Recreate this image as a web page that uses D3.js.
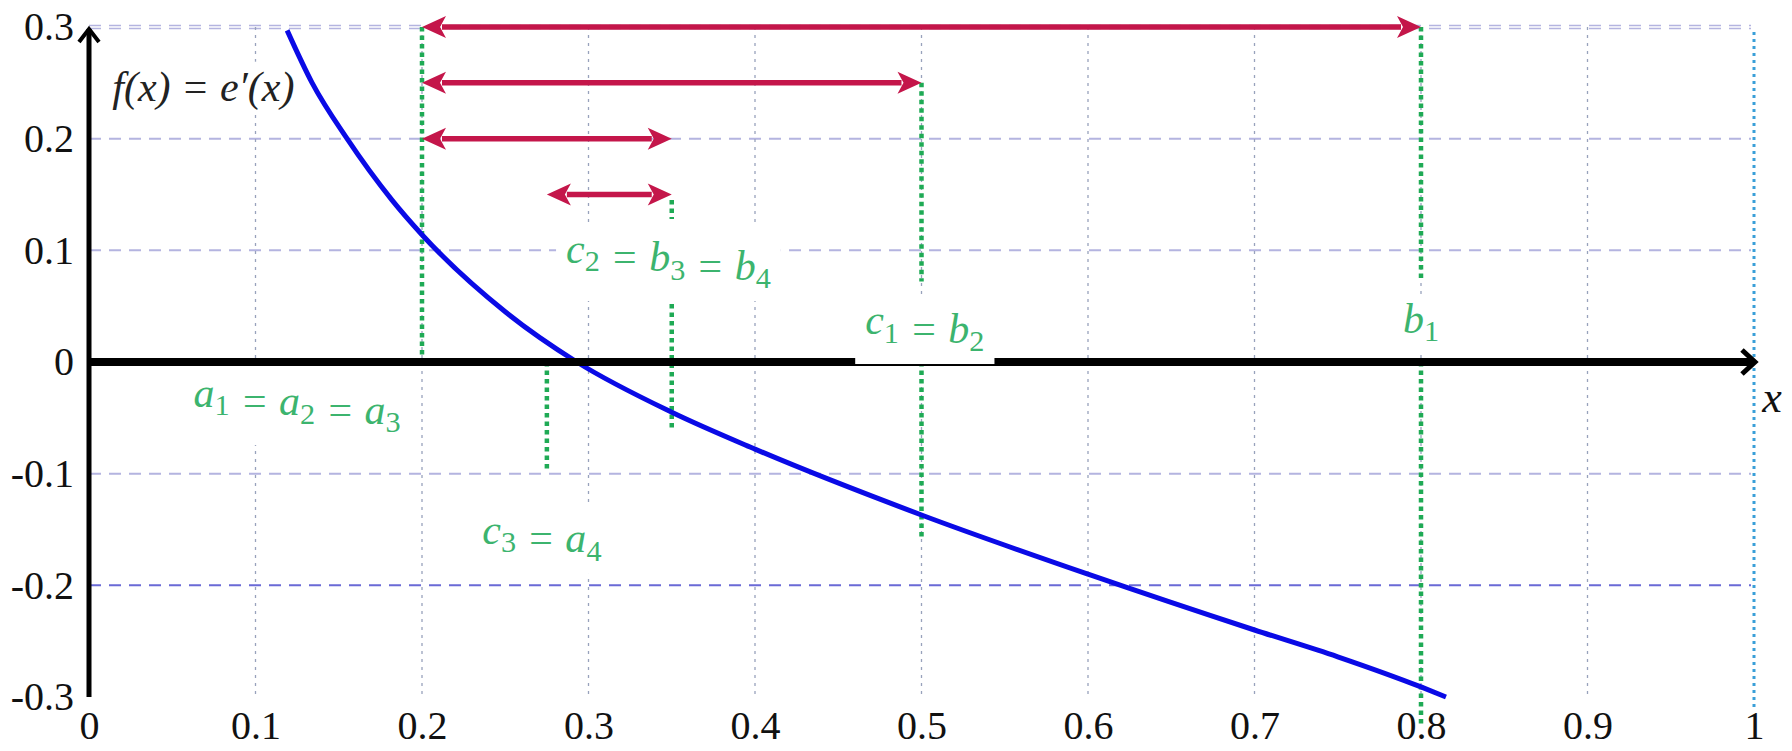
<!DOCTYPE html>
<html>
<head>
<meta charset="utf-8">
<script src="https://cdn.jsdelivr.net/npm/d3@7.9.0/dist/d3.min.js"></script>
<style>
  body { margin: 0; background: #fff; }
  svg text { font-family: "Liberation Serif", "Tinos", "DejaVu Serif", "Times New Roman", serif; }
</style>
</head>
<body>
<svg id="chart" width="1792" height="751"></svg>
<script>
// Ticks and tick labels
const xTicks = [0, 0.1, 0.2, 0.3, 0.4, 0.5, 0.6, 0.7, 0.8, 0.9, 1];
const xTickLabels = ["0", "0.1", "0.2", "0.3", "0.4", "0.5", "0.6", "0.7", "0.8", "0.9", "1"];
const yTicks = [-0.3, -0.2, -0.1, 0, 0.1, 0.2, 0.3];
const yTickLabels = ["-0.3", "-0.2", "-0.1", "0", "0.1", "0.2", "0.3"];
const gridY = [0.3, 0.2, 0.1, -0.1, -0.2];
const gridX = [0.1, 0.2, 0.3, 0.4, 0.5, 0.6, 0.7, 0.8, 0.9];

// The curve f(x) = e'(x)
const curveX = [0.119, 0.134, 0.155, 0.182, 0.2, 0.25, 0.293, 0.35, 0.4, 0.5, 0.6, 0.7, 0.75, 0.8, 0.815];
const curveY = [0.297, 0.25, 0.2, 0.145, 0.114, 0.045, 0, -0.045, -0.078, -0.137, -0.19, -0.24, -0.264, -0.291, -0.3];

// Bisection intervals (red double arrows)
const arrowFrom = [0.2, 0.2, 0.2, 0.275];
const arrowTo = [0.8, 0.5, 0.35, 0.35];
const arrowLevel = [0.3, 0.25, 0.2, 0.15];

// Green dotted markers: x position, top and bottom values
const markX = [0.2, 0.5, 0.5, 0.8, 0.8, 0.35, 0.35, 0.275];
const markTop = [0.3, 0.25, 0, 0.3, 0, 0.145, 0.052, 0];
const markBottom = [0, 0.072, -0.157, 0.075, -0.325, 0.128, -0.06, -0.098];

// Annotations (digits become subscripts)
const labelText = ["a1 = a2 = a3", "c2 = b3 = b4", "c1 = b2", "b1", "c3 = a4"];
const labelX = [0.125, 0.348, 0.502, 0.8, 0.272];
const labelY = [-0.04, 0.089, 0.025, 0.026, -0.163];

const serif = '"Liberation Serif", "Tinos", "DejaVu Serif", "Times New Roman", serif';
const svg = d3.select("#chart");
const x = d3.scaleLinear().domain([0, 1]).range([89, 1754]);
const y = d3.scaleLinear().domain([-0.3, 0.3]).range([697, 27]);

// Horizontal dashed grid
gridY.forEach(v => {
    const offs = v === 0.3 ? [-1.5, 1.5] : [0];
    offs.forEach(o => {
        svg.append("line")
            .attr("x1", x(0)).attr("x2", x(1) - 3)
            .attr("y1", y(v) + o).attr("y2", y(v) + o)
            .attr("stroke", v === -0.2 ? "#6a6ad6" : "#b4b4e0")
            .attr("stroke-width", v === 0.3 ? 1.6 : 2)
            .attr("stroke-dasharray", "12 8");
    });
});

// Vertical dotted grid
gridX.forEach(v => {
    svg.append("line")
        .attr("x1", x(v)).attr("x2", x(v))
        .attr("y1", y(0.3)).attr("y2", y(-0.3))
        .attr("stroke", "#98a2bc")
        .attr("stroke-width", 1.3)
        .attr("stroke-dasharray", "3 5");
});
svg.append("line")
    .attr("x1", x(1)).attr("x2", x(1))
    .attr("y1", y(0.3) + 5).attr("y2", y(-0.3) + 14)
    .attr("stroke", "#3a9fd8")
    .attr("stroke-width", 3)
    .attr("stroke-dasharray", "3 4");

// Green dotted markers
markX.forEach((v, i) => {
    svg.append("line")
        .attr("x1", x(v)).attr("x2", x(v))
        .attr("y1", y(markTop[i])).attr("y2", y(markBottom[i]))
        .attr("stroke", "#1faa55")
        .attr("stroke-width", 4.5)
        .attr("stroke-dasharray", "4.5 4");
});

// Curve
const pts = curveX.map((d, i) => [d, curveY[i]]);
svg.append("path")
    .datum(pts)
    .attr("fill", "none")
    .attr("stroke", "#0a0ae6")
    .attr("stroke-width", 5)
    .attr("d", d3.line().x(d => x(d[0])).y(d => y(d[1])).curve(d3.curveMonotoneX));

// Axes lines with open arrow heads
svg.append("line")
    .attr("x1", x(0)).attr("x2", x(0))
    .attr("y1", y(-0.3)).attr("y2", y(0.3) + 2)
    .attr("stroke", "#000").attr("stroke-width", 5);
svg.append("path")
    .attr("d", `M${x(0) - 10},${y(0.3) + 15}L${x(0)},${y(0.3) + 2}L${x(0) + 10},${y(0.3) + 15}`)
    .attr("fill", "none").attr("stroke", "#000").attr("stroke-width", 4);
svg.append("line")
    .attr("x1", x(0)).attr("x2", x(1))
    .attr("y1", y(0)).attr("y2", y(0))
    .attr("stroke", "#000").attr("stroke-width", 8);
svg.append("path")
    .attr("d", `M${x(1) - 12},${y(0) - 12}L${x(1) + 1},${y(0)}L${x(1) - 12},${y(0) + 12}`)
    .attr("fill", "none").attr("stroke", "#000").attr("stroke-width", 5);

// Red double arrows
const head = 24, half = 11;
arrowFrom.forEach((v, i) => {
    const x1 = x(v), x2 = x(arrowTo[i]), yy = y(arrowLevel[i]);
    svg.append("line")
        .attr("x1", x1 + head - 4).attr("x2", x2 - head + 4)
        .attr("y1", yy).attr("y2", yy)
        .attr("stroke", "#c4164a").attr("stroke-width", 5.5);
    svg.append("path")
        .attr("d", `M${x1},${yy}L${x1 + head},${yy - half}L${x1 + head - 6},${yy}L${x1 + head},${yy + half}Z`)
        .attr("fill", "#c4164a");
    svg.append("path")
        .attr("d", `M${x2},${yy}L${x2 - head},${yy - half}L${x2 - head + 6},${yy}L${x2 - head},${yy + half}Z`)
        .attr("fill", "#c4164a");
});

// Tick labels
const xAxis = svg.append("g")
    .attr("transform", `translate(0,${y(-0.3) + 14})`)
    .call(d3.axisBottom(x).tickValues(xTicks).tickFormat((d, i) => xTickLabels[i]).tickSize(0).tickPadding(0));
const yAxis = svg.append("g")
    .attr("transform", `translate(${x(0) - 15},0)`)
    .call(d3.axisLeft(y).tickValues(yTicks).tickFormat((d, i) => yTickLabels[i]).tickSize(0).tickPadding(0));
[xAxis, yAxis].forEach(g => {
    g.attr("font-family", serif);
    g.select(".domain").remove();
    g.selectAll("text")
        .attr("fill", "#111")
        .style("font-family", serif)
        .style("font-size", "40px");
});

// Writes text where digits are upright subscripts
function mathText(sel, str) {
    str.split(/(\d)/).filter(s => s !== "").forEach(s => {
        if (/\d/.test(s)) {
            sel.append("tspan").attr("font-style", "normal").attr("font-size", "0.72em")
                .attr("dy", "0.28em").text(s);
            sel.append("tspan").attr("dy", "-0.2em").text("");
        } else {
            sel.append("tspan").text(s);
        }
    });
}

// Green annotations on white boxes
labelText.forEach((t, i) => {
    const g = svg.append("g");
    const txt = g.append("text")
        .attr("x", x(labelX[i])).attr("y", y(labelY[i]))
        .attr("text-anchor", "middle")
        .attr("font-style", "italic")
        .attr("font-size", 42)
        .attr("fill", "#3cb46e")
        .style("font-family", serif)
        .attr("xml:space", "preserve");
    mathText(txt, t);
    const b = txt.node().getBBox();
    g.insert("rect", "text")
        .attr("x", b.x - 10).attr("y", b.y - 2)
        .attr("width", b.width + 20).attr("height", b.height + 8)
        .attr("fill", "#fff");
});

// Function label and axis name
const fl = svg.append("g");
const ft = fl.append("text")
    .attr("x", x(0.014)).attr("y", y(0.234))
    .attr("font-style", "italic").attr("font-size", 42).attr("fill", "#222")
    .style("font-family", serif)
    .text("f(x) = e\u2032(x)");
const fb = ft.node().getBBox();
fl.insert("rect", "text")
    .attr("x", fb.x - 4).attr("y", fb.y - 2)
    .attr("width", fb.width + 6).attr("height", fb.height + 4)
    .attr("fill", "#fff");

svg.append("text")
    .attr("x", x(1) + 18).attr("y", y(-0.045))
    .attr("text-anchor", "middle")
    .attr("font-style", "italic").attr("font-size", 44).attr("fill", "#111")
    .style("font-family", serif)
    .text("x");
</script>
</body>
</html>
